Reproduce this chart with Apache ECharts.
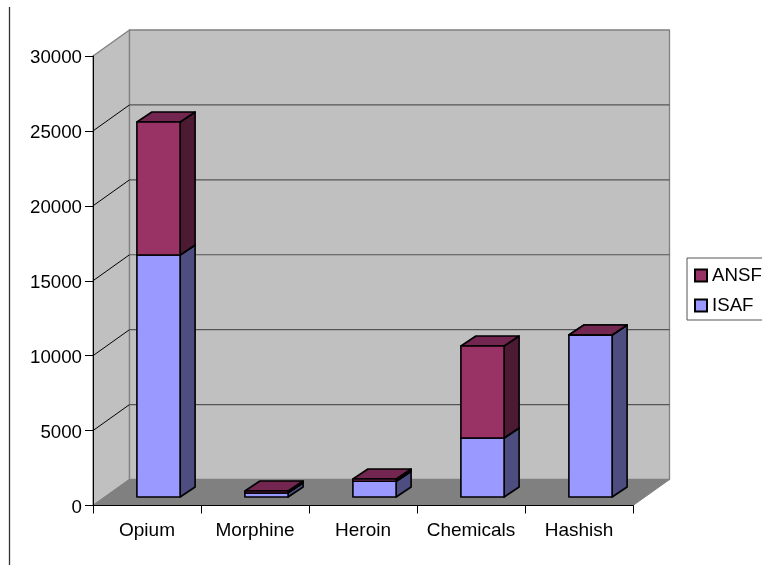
<!DOCTYPE html>
<html><head><meta charset="utf-8">
<style>html,body{margin:0;padding:0;background:#fff}#c{width:762px;height:565px}</style>
<script src="https://cdn.jsdelivr.net/npm/echarts@6/dist/echarts.min.js"></script>
</head><body><div id="c"></div>
<script>
const categories = ['Opium','Morphine','Heroin','Chemicals','Hashish'];
const isaf = [16150, 270, 1050, 3940, 10810];
const ansf = [8880, 130, 150, 6140, 0];
const yTicks = [0,5000,10000,15000,20000,25000,30000];
const FONT = '"Liberation Sans", Arial, sans-serif';
const DX = 36.5, DY = -26;        // wall depth
const BX = 11.5, BY = -8.5;       // bar plane offset from front axis
const TX = 15, TY = -10;          // bar depth
const LINE = '#000';
const chart = echarts.init(document.getElementById('c'), null, {renderer:'canvas'});
function poly(points, fill, stroke, lw){
  return {type:'polygon', shape:{points}, style:{fill, stroke:stroke||null, lineWidth:lw||0, lineJoin:'round'}};
}
function line(p,q,stroke,lw){
  return {type:'line', shape:{x1:p[0],y1:p[1],x2:q[0],y2:q[1]}, style:{stroke, lineWidth:lw}};
}
function renderBars(front, side, top){
  return function(params, api){
    const c = api.value(0), from = api.value(1), to = api.value(2);
    const w = api.size([1,0])[0]*0.4;
    const b = api.coord([c,from]), t = api.coord([c,to]);
    const x0 = b[0]+BX-w/2, x1 = b[0]+BX+w/2, y0 = b[1]+BY, y1 = t[1]+BY;
    return {type:'group', children:[
      poly([[x1,y0],[x1+TX,y0+TY],[x1+TX,y1+TY],[x1,y1]], side, LINE, 1.6),
      poly([[x0,y1],[x1,y1],[x1+TX,y1+TY],[x0+TX,y1+TY]], top, LINE, 1.6),
      poly([[x0,y0],[x1,y0],[x1,y1],[x0,y1]], front, LINE, 1.6)
    ]};
  };
}
const stacked = categories.map((_,i)=>[i,0,isaf[i]]);
const stackedTop = categories.map((_,i)=>[i,isaf[i],isaf[i]+ansf[i]]);
chart.setOption({
  animation:false,
  backgroundColor:'#fff',
  textStyle:{fontFamily:FONT},
  grid:{left:93,top:56,width:540,height:449.5,containLabel:false},
  legend:{
    left:687, top:258, orient:'vertical', data:['ANSF','ISAF'],
    itemWidth:12, itemHeight:12, itemGap:11, padding:[8,20,5,7],
    borderColor:'#555', borderWidth:1, backgroundColor:'#fff',
    textStyle:{fontFamily:FONT,fontSize:18.7,color:'#000',padding:[0,0,0,0]},
    icon:'rect', selectedMode:false
  },
  xAxis:{type:'category',data:categories,z:10,
    axisLine:{lineStyle:{color:'#000',width:1.2}},
    axisTick:{show:true,alignWithLabel:false,length:8,lineStyle:{color:'#000'}},
    axisLabel:{fontFamily:FONT,fontSize:19,color:'#000',margin:16,interval:0},
    splitLine:{show:false}},
  yAxis:{type:'value',min:0,max:30000,interval:5000,z:10,
    axisLine:{show:true,lineStyle:{color:'#000',width:1}},
    axisTick:{show:true,length:8,lineStyle:{color:'#000'}},
    axisLabel:{fontFamily:FONT,fontSize:18.7,color:'#000',margin:11,verticalAlign:'top',lineHeight:4,formatter:v=>String(v)},
    splitLine:{show:false}},
  graphic:[{type:'line',shape:{x1:9.5,y1:7,x2:9.5,y2:565},style:{stroke:'#333',lineWidth:1.3},z:20}],
  series:[
    {type:'custom',name:'walls',silent:true,z:1,coordinateSystem:'cartesian2d',
     data:[[0,0]],encode:{x:0,y:1},
     renderItem(params,api){
       const size = api.size([1,0])[0];
       const o = api.coord([0,0]); const a = api.coord([0,30000]);
       const xl = o[0]-size/2, xr = xl+size*categories.length, yb=o[1], yt=a[1];
       return {type:'group',children:[
         poly([[xl,yb],[xl+DX,yb+DY],[xl+DX,yt+DY],[xl,yt]],'#c0c0c0','#808080',1.3),
         poly([[xl+DX,yb+DY],[xr+DX,yb+DY],[xr+DX,yt+DY],[xl+DX,yt+DY]],'#c0c0c0','#808080',1.3),
         poly([[xl,yb],[xr,yb],[xr+DX,yb+DY],[xl+DX,yb+DY]],'#808080','#808080',1)
       ]};
     }},
    {type:'custom',name:'gridlines',silent:true,z:1.5,coordinateSystem:'cartesian2d',
     data:yTicks.slice(1,-1).map(v=>[0,v]),encode:{x:0,y:1},
     renderItem(params,api){
       const size = api.size([1,0])[0];
       const p = api.coord([0,api.value(1)]);
       const xl = p[0]-size/2, xr = xl+size*categories.length, y=p[1];
       return {type:'group',children:[
         line([xl,y],[xl+DX,y+DY],'#000',1),
         line([xl+DX,y+DY],[xr+DX,y+DY],'#555',1.2)
       ]};
     }},
    {type:'custom',name:'ISAF',z:3,coordinateSystem:'cartesian2d',
     itemStyle:{color:'#9999ff',borderColor:'#000',borderWidth:1.5},
     data:stacked,encode:{x:0,y:[1,2]},
     renderItem:renderBars('#9999ff','#4d4d80','#732650')},
    {type:'custom',name:'ANSF',z:4,coordinateSystem:'cartesian2d',
     itemStyle:{color:'#993366',borderColor:'#000',borderWidth:1.5},
     data:stackedTop,encode:{x:0,y:[1,2]},
     renderItem:renderBars('#993366','#4d1a33','#732650')}
  ]
});
</script></body></html>
